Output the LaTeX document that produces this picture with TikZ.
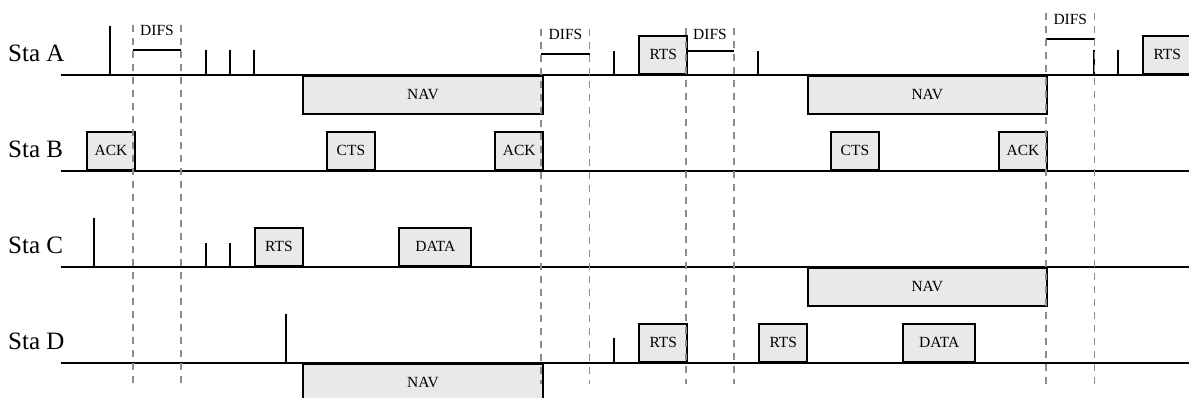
\documentclass[tikz,border=0pt]{standalone}
\usepackage{fontspec}
\setmainfont{Liberation Serif}
\definecolor{boxgray}{RGB}{233,233,233}
\definecolor{guidegray}{RGB}{140,140,140}
\newcommand{\stafont}{\fontsize{25}{30}\selectfont}
\newcommand{\pktfont}{\fontsize{15.5}{18}\selectfont}
\newcommand{\pk}[1]{\raisebox{-1.5pt}{#1}}
\tikzset{
  baseline line/.style={line width=1.9pt, black},
  spike/.style={line width=1.9pt, black},
  pkt/.style={draw=black, line width=1.9pt, fill=boxgray, minimum height=38pt,
    inner sep=0pt, anchor=south west, font=\pktfont},
  navbox/.style={draw=black, line width=1.9pt, fill=boxgray, minimum height=38pt,
    inner sep=0pt, anchor=north west, font=\pktfont},
  guide/.style={guidegray, line width=1.5pt, dash pattern=on 7pt off 6pt},
  difsline/.style={line width=1.9pt, black},
  difstext/.style={font=\pktfont, inner sep=0pt, anchor=base},
  stalabel/.style={font=\stafont, inner sep=0pt, anchor=base west}
}
\begin{document}
\begin{tikzpicture}[x=1pt,y=-1pt]
\useasboundingbox (0,0) rectangle (1189,397);
% row coordinates
\def\yA{74.7}\def\yB{170.7}\def\yC{266.7}\def\yD{362.7}
% labels
\node[stalabel] (la) at (8,61.7) {Sta A};
\node[stalabel] (lb) at (8,157.7) {Sta B};
\node[stalabel] (lc) at (8,253.7) {Sta C};
\node[stalabel] (ld) at (8,349.7) {Sta D};
% baselines
\foreach \yy in {\yA,\yB,\yC,\yD} \draw[baseline line] (61,\yy) -- (1189,\yy);

% ---------- Sta A ----------
\draw[spike] (110,\yA) -- (110,26);
\foreach \xx in {206,230,254} \draw[spike] (\xx,\yA) -- (\xx,50);
\node[navbox, minimum width=240pt] (navA1) at (302,\yA) {\pk{NAV}};
\draw[spike] (614.3,\yA) -- (614.3,50.7);
\node[pkt, minimum width=48pt] (rtsA1) at (638.3,\yA) {\pk{RTS}};
\draw[spike] (758.3,\yA) -- (758.3,50.7);
\node[navbox, minimum width=239.3pt] (navA2) at (806.7,\yA) {\pk{NAV}};
\draw[spike] (1094.3,\yA) -- (1094.3,50);
\draw[spike] (1118.3,\yA) -- (1118.3,50);
\node[pkt, minimum width=48pt] (rtsA2) at (1142.3,\yA) {\pk{RTS}};
% DIFS marks
\draw[difsline] (133,50) -- (181,50);
\node[difstext] (d1) at (157,35) {DIFS};
\draw[difsline] (541,54) -- (590,54);
\node[difstext] (d2) at (565.5,39.3) {DIFS};
\draw[difsline] (686,50.7) -- (734,50.7);
\node[difstext] (d3) at (710,39.3) {DIFS};
\draw[difsline] (1046,39) -- (1094.5,39);
\node[difstext] (d4) at (1070.3,24) {DIFS};

% ---------- Sta B ----------
\node[pkt, minimum width=48pt] (ackB1) at (86,\yB) {\pk{ACK}};
\node[pkt, minimum width=48pt] (ctsB1) at (326,\yB) {\pk{CTS}};
\node[pkt, minimum width=48pt] (ackB2) at (494.3,\yB) {\pk{ACK}};
\node[pkt, minimum width=48pt] (ctsB2) at (830,\yB) {\pk{CTS}};
\node[pkt, minimum width=48pt] (ackB3) at (998,\yB) {\pk{ACK}};

% ---------- Sta C ----------
\draw[spike] (94.3,\yC) -- (94.3,218.3);
\foreach \xx in {206,230} \draw[spike] (\xx,\yC) -- (\xx,242.7);
\node[pkt, minimum width=48pt] (rtsC1) at (254,\yC) {\pk{RTS}};
\node[pkt, minimum width=72pt] (dataC) at (398.4,\yC) {\pk{DATA}};
\node[navbox, minimum width=239.3pt] (navC) at (806.7,\yC) {\pk{NAV}};

% ---------- Sta D ----------
\draw[spike] (286,\yD) -- (286,314);
\node[navbox, minimum width=240pt] (navD) at (302,\yD) {\pk{NAV}};
\draw[spike] (614,\yD) -- (614,338);
\node[pkt, minimum width=48pt] (rtsD1) at (638.3,\yD) {\pk{RTS}};
\node[pkt, minimum width=48pt] (rtsD2) at (758.3,\yD) {\pk{RTS}};
\node[pkt, minimum width=72pt] (dataD) at (902.3,\yD) {\pk{DATA}};

% ---------- guide lines ----------
\draw[guide] (133,25) -- (133,384);
\draw[guide] (181,25) -- (181,384);
\draw[guide] (541,29) -- (541,384);
\draw[guide] (589.5,29) -- (589.5,384);
\draw[guide] (686,28) -- (686,384);
\draw[guide] (734,28) -- (734,384);
\draw[guide] (1046,13) -- (1046,384);
\draw[guide] (1094.5,13) -- (1094.5,384);
\end{tikzpicture}
\end{document}
